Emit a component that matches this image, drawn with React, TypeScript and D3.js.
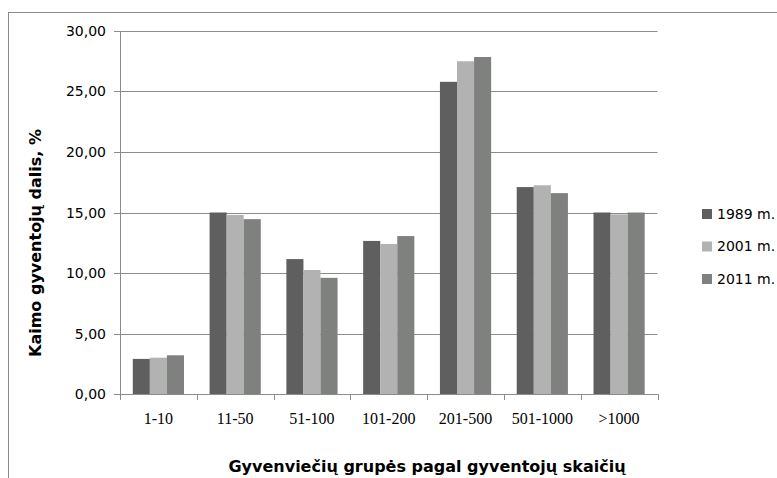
import React from 'react';
import * as d3 from 'd3';

const WIDTH = 777;
const HEIGHT = 478;

const categories = ['1-10', '11-50', '51-100', '101-200', '201-500', '501-1000', '>1000'];
const seriesNames = ['1989 m.', '2001 m.', '2011 m.'];
const values1989 = [2.9, 15.0, 11.15, 12.65, 25.8, 17.1, 15.0];
const values2001 = [3.0, 14.8, 10.25, 12.4, 27.5, 17.25, 14.85];
const values2011 = [3.2, 14.45, 9.6, 13.05, 27.85, 16.6, 15.0];
const yTicks = [0, 5, 10, 15, 20, 25, 30];

const colors = ['#5f5f5f', '#b2b2b2', '#7f817f'];
const gridColor = '#8c8c8c';

const margin = {top: 31, left: 120, right: 119.5, bottom: 84};

const App = () => {
    const series = [values1989, values2001, values2011];
    const plotW = WIDTH - margin.left - margin.right;
    const plotH = HEIGHT - margin.top - margin.bottom;

    const xScale = d3.scaleBand<string>()
        .domain(categories)
        .range([0, plotW]);
    const inner = d3.scaleBand<number>()
        .domain([0, 1, 2])
        .range([0, xScale.bandwidth()])
        .paddingOuter(0.75)
        .paddingInner(0);
    const yScale = d3.scaleLinear().domain([0, 30]).range([plotH, 0]);
    const fmt = (v: number) => v.toFixed(2).replace('.', ',');

    const sans = 'DejaVu Sans, Verdana, sans-serif';

    return (
        <svg width={WIDTH} height={HEIGHT}
             style={{position: 'absolute', left: 0, top: 0, background: '#fff'}}>
            {/* outer chart frame */}
            <rect x={8.5} y={12.5} width={WIDTH + 20} height={HEIGHT + 20}
                  fill="none" stroke="#8a8a8a" strokeWidth={1}/>

            <g transform={`translate(${margin.left},${margin.top})`}>
                {yTicks.map(t => (
                    <g key={t} transform={`translate(0,${Math.round(yScale(t)) + 0.5})`}>
                        <line x1={-6} x2={plotW} stroke={gridColor} strokeWidth={1}/>
                        <text x={-14} dy="0.35em" textAnchor="end"
                              fontFamily={sans} fontSize={14} fill="#000">{fmt(t)}</text>
                    </g>
                ))}

                {categories.map((c, i) => (
                    <g key={c} transform={`translate(${xScale(c)},0)`}>
                        {series.map((s, j) => (
                            <rect key={j}
                                  x={inner(j)}
                                  y={yScale(s[i])}
                                  width={inner.bandwidth()}
                                  height={plotH - yScale(s[i])}
                                  fill={colors[j]}/>
                        ))}
                        <text x={xScale.bandwidth() / 2} y={plotH + 30} textAnchor="middle"
                              fontFamily="Liberation Serif, Times New Roman, serif"
                              fontSize={16} fill="#000">{c}</text>
                    </g>
                ))}

                {/* axes */}
                <line x1={0.5} x2={0.5} y1={0} y2={plotH + 6} stroke={gridColor}/>
                <line x1={0} x2={plotW} y1={plotH + 0.5} y2={plotH + 0.5} stroke={gridColor}/>
                {[...categories.map(c => xScale(c) as number), plotW].map((x, i) => (
                    <line key={i} x1={Math.round(x) + 0.5} x2={Math.round(x) + 0.5}
                          y1={plotH} y2={plotH + 6} stroke={gridColor}/>
                ))}
            </g>

            {/* axis titles */}
            <text transform="translate(41,243) rotate(-90)" textAnchor="middle"
                  fontFamily={sans} fontWeight="bold" fontSize={16} fill="#000">
                Kaimo gyventojų dalis, %
            </text>
            <text x={427} y={472} textAnchor="middle"
                  fontFamily={sans} fontWeight="bold" fontSize={16} fill="#000">
                Gyvenviečių grupės pagal gyventojų skaičių
            </text>

            {/* legend */}
            {seriesNames.map((name, i) => (
                <g key={name} transform={`translate(702,${214 + i * 32.5})`}>
                    <rect x={0} y={-5} width={10} height={10} fill={colors[i]}/>
                    <text x={15} dy="0.35em" fontFamily={sans} fontSize={14} fill="#000">{name}</text>
                </g>
            ))}
        </svg>
    );
};

export default App;
